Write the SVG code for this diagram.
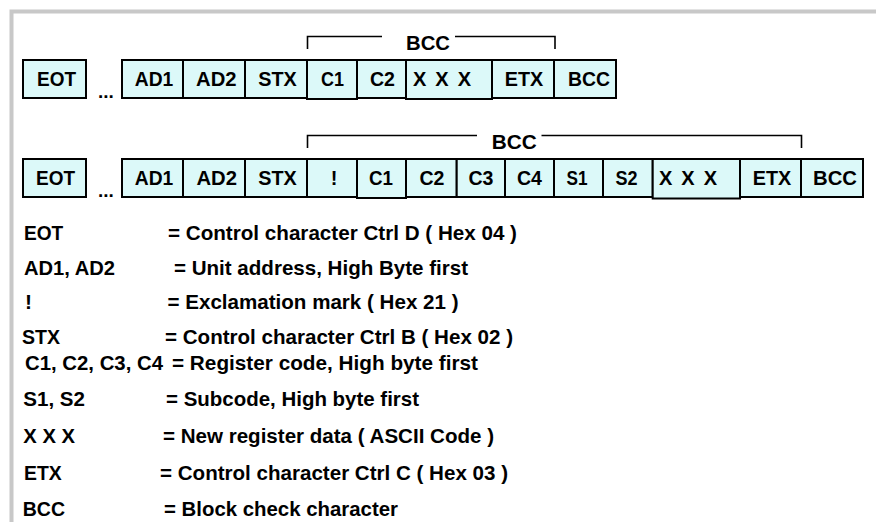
<svg xmlns="http://www.w3.org/2000/svg" width="876" height="522" viewBox="0 0 876 522">
<style>
.frame{fill:none;stroke:#c8c8c8;stroke-width:4}
.box{fill:#dcf9f9;stroke:#000;stroke-width:2}
.lbl{font-family:"Liberation Sans",Arial,sans-serif;font-weight:bold;font-size:20px;fill:#000;text-anchor:middle}
.lbs{font-family:"Liberation Sans",Arial,sans-serif;font-weight:bold;font-size:20px;fill:#000}
.dots{font-family:"Liberation Sans",Arial,sans-serif;font-weight:bold;font-size:19px;fill:#000}
.leg{font-family:"Liberation Sans",Arial,sans-serif;font-weight:bold;font-size:21px;fill:#000}
.brk{fill:none;stroke:#000;stroke-width:1.6}
</style>
<rect width="876" height="522" fill="#fff"/>
<path class="frame" d="M11.5,522 V11.5 H876"/>

<g id="row1">
  <g id="r1-eot"><rect class="box" x="23" y="60" width="63" height="38"/><text class="lbl" x="56.5" y="85.5" textLength="39" lengthAdjust="spacingAndGlyphs">EOT</text></g>
  <text class="dots" x="98" y="98">...</text>
  <g id="r1-ad1"><rect class="box" x="122" y="60" width="61" height="38"/><text class="lbl" x="154" y="85.5" textLength="38.5" lengthAdjust="spacingAndGlyphs">AD1</text></g>
  <g id="r1-ad2"><rect class="box" x="183" y="60" width="62" height="38"/><text class="lbl" x="216.3" y="85.5" textLength="40.5" lengthAdjust="spacingAndGlyphs">AD2</text></g>
  <g id="r1-stx"><rect class="box" x="245" y="60" width="62" height="38"/><text class="lbl" x="277.5" y="85.5" textLength="38.5" lengthAdjust="spacingAndGlyphs">STX</text></g>
  <g id="r1-c1"><rect class="box" x="307" y="60" width="50" height="39"/><text class="lbl" x="332.5" y="85.5" textLength="23" lengthAdjust="spacingAndGlyphs">C1</text></g>
  <g id="r1-c2"><rect class="box" x="357" y="60" width="49" height="38"/><text class="lbl" x="382.5" y="85.5" textLength="25" lengthAdjust="spacingAndGlyphs">C2</text></g>
  <g id="r1-xxx"><rect class="box" x="406" y="60" width="86" height="39"/><text class="lbs" x="413" y="85.5" textLength="58" lengthAdjust="spacing">X X X</text></g>
  <g id="r1-etx"><rect class="box" x="492" y="60" width="62" height="38"/><text class="lbl" x="524" y="85.5" textLength="38.5" lengthAdjust="spacingAndGlyphs">ETX</text></g>
  <g id="r1-bcc"><rect class="box" x="554" y="60" width="62" height="38"/><text class="lbl" x="589" y="85.5" textLength="42" lengthAdjust="spacingAndGlyphs">BCC</text></g>
</g>

<g id="row2">
  <g id="r2-eot"><rect class="box" x="23" y="159" width="63" height="38"/><text class="lbl" x="55.5" y="185" textLength="39" lengthAdjust="spacingAndGlyphs">EOT</text></g>
  <text class="dots" x="98" y="197">...</text>
  <g id="r2-ad1"><rect class="box" x="122" y="159" width="61" height="38"/><text class="lbl" x="154" y="185" textLength="38.5" lengthAdjust="spacingAndGlyphs">AD1</text></g>
  <g id="r2-ad2"><rect class="box" x="183" y="159" width="62" height="38"/><text class="lbl" x="216.7" y="185" textLength="40.5" lengthAdjust="spacingAndGlyphs">AD2</text></g>
  <g id="r2-stx"><rect class="box" x="245" y="159" width="62" height="38"/><text class="lbl" x="277.5" y="185" textLength="38.5" lengthAdjust="spacingAndGlyphs">STX</text></g>
  <g id="r2-excl"><rect class="box" x="307" y="159" width="50" height="38"/><text class="lbl" x="334" y="185">!</text></g>
  <g id="r2-c1"><rect class="box" x="357" y="159" width="49" height="39"/><text class="lbl" x="381" y="185" textLength="24" lengthAdjust="spacingAndGlyphs">C1</text></g>
  <g id="r2-c2"><rect class="box" x="406" y="159" width="50.7" height="38"/><text class="lbl" x="432" y="185" textLength="25" lengthAdjust="spacingAndGlyphs">C2</text></g>
  <g id="r2-c3"><rect class="box" x="456.7" y="159" width="48.3" height="38"/><text class="lbl" x="481" y="185" textLength="25" lengthAdjust="spacingAndGlyphs">C3</text></g>
  <g id="r2-c4"><rect class="box" x="505" y="159" width="49" height="38"/><text class="lbl" x="529.5" y="185" textLength="25" lengthAdjust="spacingAndGlyphs">C4</text></g>
  <g id="r2-s1"><rect class="box" x="554" y="159" width="49" height="38"/><text class="lbl" x="577" y="185" textLength="21" lengthAdjust="spacingAndGlyphs">S1</text></g>
  <g id="r2-s2"><rect class="box" x="603" y="159" width="49.7" height="38"/><text class="lbl" x="626.5" y="185" textLength="22" lengthAdjust="spacingAndGlyphs">S2</text></g>
  <g id="r2-xxx"><rect class="box" x="652.7" y="159" width="87.3" height="39.5"/><text class="lbs" x="659" y="185" textLength="58" lengthAdjust="spacing">X X X</text></g>
  <g id="r2-etx"><rect class="box" x="740" y="159" width="61" height="38"/><text class="lbl" x="772" y="185" textLength="38.5" lengthAdjust="spacingAndGlyphs">ETX</text></g>
  <g id="r2-bcc"><rect class="box" x="801" y="159" width="62" height="38"/><text class="lbl" x="835" y="185" textLength="44" lengthAdjust="spacingAndGlyphs">BCC</text></g>
</g>

<g id="connectors">
  <path class="brk" d="M307.5,49 V36.5 H382"/>
  <path class="brk" d="M455,36.5 H555 V49"/>
  <path class="brk" d="M307.5,148 V135.5 H477"/>
  <path class="brk" d="M541.5,135.5 H801.5 V148"/>
</g>
<g id="bracket-labels">
  <text class="leg" x="406" y="49.5" textLength="44" lengthAdjust="spacingAndGlyphs">BCC</text>
  <text class="leg" x="491.7" y="148.5" textLength="45" lengthAdjust="spacingAndGlyphs">BCC</text>
</g>

<g id="legend">
  <text class="leg" x="24" y="240" textLength="39.3" lengthAdjust="spacingAndGlyphs">EOT</text>
  <text class="leg" x="168" y="240" textLength="349" lengthAdjust="spacingAndGlyphs">= Control character Ctrl D ( Hex 04 )</text>
  <text class="leg" x="24" y="275" textLength="91" lengthAdjust="spacingAndGlyphs">AD1, AD2</text>
  <text class="leg" x="174" y="275" textLength="294" lengthAdjust="spacingAndGlyphs">= Unit address, High Byte first</text>
  <text class="leg" x="25" y="309">!</text>
  <text class="leg" x="167.5" y="309" textLength="291" lengthAdjust="spacingAndGlyphs">= Exclamation mark ( Hex 21 )</text>
  <text class="leg" x="22" y="344" textLength="38" lengthAdjust="spacingAndGlyphs">STX</text>
  <text class="leg" x="165" y="344" textLength="348" lengthAdjust="spacingAndGlyphs">= Control character Ctrl B ( Hex 02 )</text>
  <text class="leg" x="25" y="370" textLength="138" lengthAdjust="spacingAndGlyphs">C1, C2, C3, C4</text>
  <text class="leg" x="172" y="370" textLength="306" lengthAdjust="spacingAndGlyphs">= Register code, High byte first</text>
  <text class="leg" x="23.3" y="406" textLength="61.7" lengthAdjust="spacingAndGlyphs">S1, S2</text>
  <text class="leg" x="166" y="406" textLength="253" lengthAdjust="spacingAndGlyphs">= Subcode, High byte first</text>
  <text class="leg" x="23.3" y="443" textLength="51.7" lengthAdjust="spacingAndGlyphs">X X X</text>
  <text class="leg" x="163" y="443" textLength="331" lengthAdjust="spacingAndGlyphs">= New register data ( ASCII Code )</text>
  <text class="leg" x="24" y="480" textLength="37.7" lengthAdjust="spacingAndGlyphs">ETX</text>
  <text class="leg" x="160" y="480" textLength="348" lengthAdjust="spacingAndGlyphs">= Control character Ctrl C ( Hex 03 )</text>
  <text class="leg" x="22.7" y="516" textLength="42.3" lengthAdjust="spacingAndGlyphs">BCC</text>
  <text class="leg" x="164" y="516" textLength="234" lengthAdjust="spacingAndGlyphs">= Block check character</text>
</g>
</svg>
